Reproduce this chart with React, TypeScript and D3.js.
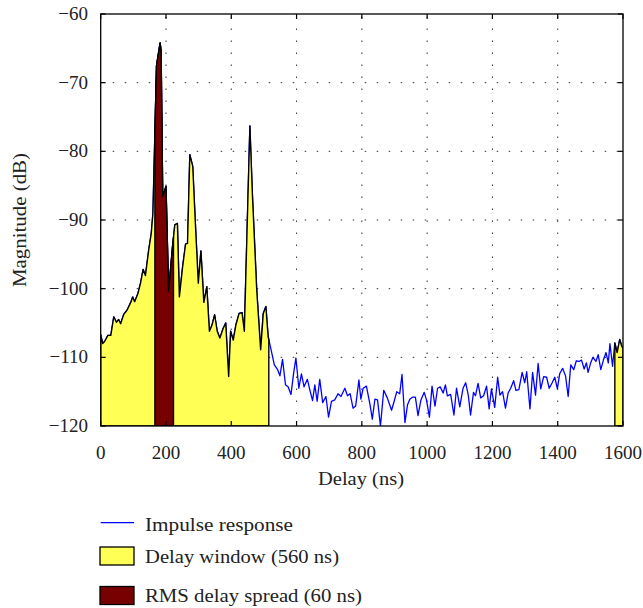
import React from "react";
import * as d3 from "d3";

const delayNs = [0,6,12,22,31,40,48,55,61,71,81,92,98,104,114,122,130,137,147,155,160,171,182,185,190,200,208,220,227,235,241,251,260,266,273,282,289,299,307,316,325,333,341,349,357,365,375,383,392,398,406,414,424,433,440,457,465,478,490,498,506,513,521,532,542,549,557,566,574,583,591,598,607,615,623,633,641,649,656,663,671,680,690,698,707,717,727,736,748,756,764,773,781,791,797,804,814,825,832,840,848,857,867,878,891,899,907,916,923,932,940,947,955,964,972,981,991,998,1007,1015,1024,1032,1040,1049,1056,1062,1072,1082,1090,1100,1110,1118,1126,1133,1142,1148,1156,1164,1173,1182,1190,1197,1207,1216,1223,1231,1240,1248,1256,1265,1272,1281,1291,1299,1305,1315,1323,1332,1340,1348,1357,1366,1374,1383,1391,1399,1406,1415,1424,1432,1440,1449,1457,1465,1473,1481,1488,1493,1501,1508,1517,1524,1532,1540,1548,1555,1560,1568,1575,1582,1590,1597,1600];
const magnitudeDb = [-106.7,-108.0,-107.7,-106.8,-106.8,-104.1,-104.9,-104.5,-105.1,-103.7,-103.1,-102.0,-101.2,-101.9,-100.7,-99.2,-97.2,-98.1,-94.4,-91.9,-89.0,-67.5,-64.2,-65.4,-86.6,-85.1,-100.4,-93.9,-90.7,-90.5,-101.2,-96.8,-93.5,-93.4,-80.5,-82.2,-89.5,-99.2,-94.5,-102.0,-99.7,-106.2,-105.3,-103.8,-106.2,-107.2,-105.8,-105.0,-112.8,-106.2,-107.5,-105.3,-103.6,-103.5,-106.2,-76.3,-86.6,-100.2,-108.9,-103.6,-102.6,-107.0,-108.7,-111.1,-111.8,-112.7,-110.3,-114.0,-114.3,-115.4,-112.3,-110.1,-114.5,-112.4,-114.3,-113.2,-114.8,-116.3,-114.0,-116.4,-113.2,-116.6,-115.7,-118.7,-116.4,-116.2,-115.3,-115.7,-114.5,-115.6,-115.3,-117.4,-117.1,-113.3,-116.1,-114.5,-114.2,-116.9,-119.0,-116.1,-116.2,-120.0,-114.8,-115.9,-117.7,-116.4,-115.0,-115.3,-112.5,-119.5,-116.9,-116.1,-115.8,-115.8,-118.5,-116.2,-115.1,-116.2,-118.7,-114.2,-117.1,-114.5,-114.3,-115.2,-114.0,-115.6,-115.4,-118.4,-114.5,-117.2,-114.5,-113.7,-115.5,-118.4,-115.1,-115.6,-113.8,-115.9,-115.6,-114.2,-117.5,-114.6,-117.3,-112.9,-115.5,-115.0,-117.4,-115.2,-114.5,-113.4,-114.8,-114.7,-112.2,-113.7,-112.1,-117.5,-112.2,-115.5,-110.9,-114.6,-112.8,-112.9,-114.5,-113.7,-112.9,-114.6,-112.4,-111.6,-112.7,-115.7,-111.1,-111.8,-110.5,-110.6,-110.4,-111.7,-110.8,-112.2,-110.8,-110.0,-110.6,-109.6,-111.8,-110.4,-109.3,-110.8,-108.0,-111.3,-107.9,-109.3,-107.4,-108.5,-108.5];

const xTicks = [0, 200, 400, 600, 800, 1000, 1200, 1400, 1600];
const yTicks = [-60, -70, -80, -90, -100, -110, -120];
const delayWindows = [[0, 515], [1575, 1600]];
const rmsWindow = [166, 223];
const legendLabels = ["Impulse response", "Delay window (560 ns)", "RMS delay spread (60 ns)"];

const W = 643, H = 608;
const L = 100.7, R = 623, T = 14, B = 426;
const FONT = "'Liberation Serif', 'DejaVu Serif', serif";

export default function App() {
  const x = d3.scaleLinear().domain([0, 1600]).range([L, R]);
  const y = d3.scaleLinear().domain([-120, -60]).range([B, T]);
  const pts: [number, number][] = delayNs.map((d, i) => [d, magnitudeDb[i]]);

  const valAt = (t: number) => {
    for (let i = 0; i < pts.length - 1; i++) {
      if (pts[i][0] <= t && t <= pts[i + 1][0]) {
        const f = (t - pts[i][0]) / (pts[i + 1][0] - pts[i][0] || 1);
        return pts[i][1] + f * (pts[i + 1][1] - pts[i][1]);
      }
    }
    return pts[pts.length - 1][1];
  };
  const seg = (a: number, b: number): [number, number][] => {
    const inner = pts.filter(p => p[0] > a && p[0] < b);
    return [[a, valAt(a)], ...inner, [b, valAt(b)]];
  };

  const line = d3.line<[number, number]>().x(d => x(d[0])).y(d => y(d[1]));
  const area = d3.area<[number, number]>().x(d => x(d[0])).y0(y(-120)).y1(d => y(d[1]));

  return (
    <svg width={W} height={H} style={{ position: "absolute", left: 0, top: 0, background: "#fff" }} fontFamily={FONT}>
      <defs>
        <clipPath id="plotclip"><rect x={L} y={T} width={R - L} height={B - T} /></clipPath>
      </defs>
      {/* grid */}
      <g stroke="#333" strokeWidth={1} strokeDasharray="1.5 10.5">
        {xTicks.slice(1, -1).map(t => <line key={"gx" + t} x1={x(t)} x2={x(t)} y1={B} y2={T} />)}
        {yTicks.slice(1, -1).map(t => <line key={"gy" + t} x1={L} x2={R} y1={y(t)} y2={y(t)} />)}
      </g>
      <g clipPath="url(#plotclip)">
        <path d={line(pts) || ""} fill="none" stroke="#0000ff" strokeWidth={1.3} strokeLinejoin="round" />
        {delayWindows.map((w, i) => (
          <path key={"dw" + i} d={area(seg(w[0], w[1])) || ""} fill="#ffff55" stroke="#000" strokeWidth={1.4} strokeLinejoin="round" />
        ))}
        <path d={area(seg(rmsWindow[0], rmsWindow[1])) || ""} fill="#770000" stroke="#000" strokeWidth={1.4} strokeLinejoin="round" />
      </g>
      {/* box and ticks */}
      <rect x={L} y={T} width={R - L} height={B - T} fill="none" stroke="#000" strokeWidth={1.3} />
      <g stroke="#000" strokeWidth={1.2}>
        {xTicks.map(t => (
          <g key={"xt" + t}>
            <line x1={x(t)} x2={x(t)} y1={B} y2={B - 5} />
            <line x1={x(t)} x2={x(t)} y1={T} y2={T + 5} />
          </g>
        ))}
        {yTicks.map(t => (
          <g key={"yt" + t}>
            <line x1={L} x2={L + 5} y1={y(t)} y2={y(t)} />
            <line x1={R} x2={R - 5} y1={y(t)} y2={y(t)} />
          </g>
        ))}
      </g>
      <g fontSize={19} fill="#222">
        {xTicks.map(t => (
          <text key={"xl" + t} x={x(t)} y={459} textAnchor="middle">{t}</text>
        ))}
        {yTicks.map(t => (
          <text key={"yl" + t} x={88} y={y(t) + 6} textAnchor="end">{t < 0 ? "\u2212" + Math.abs(t) : t}</text>
        ))}
        <text x={318} y={485} textLength={86} lengthAdjust="spacingAndGlyphs">Delay (ns)</text>
        <text transform={`translate(26, ${(T + B) / 2}) rotate(-90)`} x={-67} textLength={134} lengthAdjust="spacingAndGlyphs">Magnitude (dB)</text>
      </g>
      {/* legend */}
      <g fontSize={19} fill="#222">
        <line x1={100.7} x2={134} y1={522.7} y2={522.7} stroke="#0000ff" strokeWidth={1.3} />
        <text x={145} y={531} textLength={148} lengthAdjust="spacingAndGlyphs">{legendLabels[0]}</text>
        <rect x={100} y={547} width={34} height={18} fill="#ffff55" stroke="#000" strokeWidth={1.3} />
        <text x={145} y={563} textLength={194} lengthAdjust="spacingAndGlyphs">{legendLabels[1]}</text>
        <rect x={100} y={586.5} width={34} height={18} fill="#770000" stroke="#000" strokeWidth={1.3} />
        <text x={145} y={602} textLength={217} lengthAdjust="spacingAndGlyphs">{legendLabels[2]}</text>
      </g>
    </svg>
  );
}
